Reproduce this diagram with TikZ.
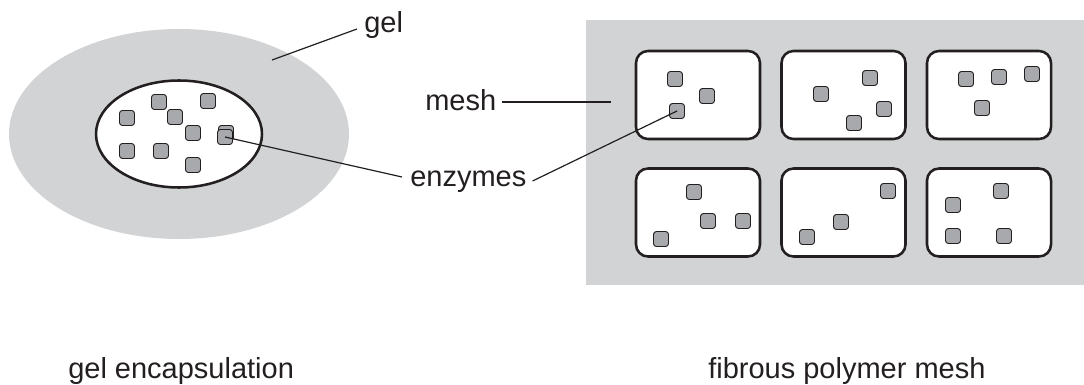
\documentclass[tikz,border=0pt]{standalone}
\usepackage{fontspec}
\setmainfont{Liberation Sans}
\usetikzlibrary{shapes.geometric}
\definecolor{gelgray}{HTML}{D1D3D4}
\definecolor{enzgray}{HTML}{A7A9AC}
\definecolor{inkdark}{HTML}{231F20}
\begin{document}
\begin{tikzpicture}[x=0.75pt,y=-0.75pt,
    every node/.style={inner sep=0pt, font=\fontsize{21.75}{26}\selectfont, text=inkdark},
    enzyme/.style={draw=inkdark, line width=0.7pt, fill=enzgray, minimum size=11.25pt, rounded corners=2.2pt},
    meshbox/.style={draw=inkdark, line width=1.9pt, fill=white, minimum width=93pt, minimum height=66pt, rounded corners=9pt},
    pointer/.style={draw=inkdark, line width=0.9pt}]
    \useasboundingbox (0,0) rectangle (1084,385);

    % Gel encapsulation
    \node[ellipse, fill=gelgray, minimum width=255pt, minimum height=157.5pt] (gelblob) at (179,134) {};
    \node[ellipse, draw=inkdark, line width=1.9pt, fill=white, minimum width=124.5pt, minimum height=80.25pt] (capsule) at (179,134) {};
    \foreach \n/\x/\y in {a1/159/102, a2/208/101, a3/127/118, a4/175/117, a5/193/133,
                          a6/226/133, a7/225/137, a8/127/151, a9/161/151, a10/193/165}
        \node[enzyme] (\n) at (\x,\y) {};
    \coordinate (gelpt) at (272,60);
    \node[anchor=base west] (gellbl) at (364,33) {gel};
    \draw[pointer] ([shift={(-7,-4)}]gellbl.base west) -- (gelpt);
    \node[anchor=base west] (gelcap) at (68,378) {gel encapsulation};

    % Fibrous polymer mesh
    \fill[gelgray] (586,20) rectangle (1084,285);
    \foreach \n/\x/\y in {b1/698/95, b2/843.5/95, b3/989/95,
                          b4/698/212.5, b5/843.5/212.5, b6/989/212.5}
        \node[meshbox] (\n) at (\x,\y) {};
    \foreach \n/\x/\y in {b11/675/79, b12/707/96, b13/677/111,
                          b21/870/78, b22/821/94, b23/884/109, b24/854/123,
                          b31/966/79, b32/999/77, b33/1032/74, b34/982/108,
                          b41/694/192, b42/708/221, b43/743/221, b44/661/239,
                          b51/888/191, b52/841/222, b53/807/237,
                          b61/1001/191, b62/953/205, b63/953/236, b64/1004/236}
        \node[enzyme] (\n) at (\x,\y) {};
    \coordinate (meshpt) at (611,102);
    \node[anchor=base west] (meshlbl) at (425,110) {mesh};
    \draw[pointer] ([shift={(6,-8)}]meshlbl.base east) -- (meshpt);
    \node[anchor=base west] (meshcap) at (708,378) {fibrous polymer mesh};

    % Enzymes label
    \node[anchor=base west] (enzlbl) at (410,186) {enzymes};
    \draw[pointer] ([shift={(-8,-9)}]enzlbl.base west) -- (a7.center);
    \draw[pointer] ([shift={(6,-5)}]enzlbl.base east) -- (b13.center);
\end{tikzpicture}
\end{document}
